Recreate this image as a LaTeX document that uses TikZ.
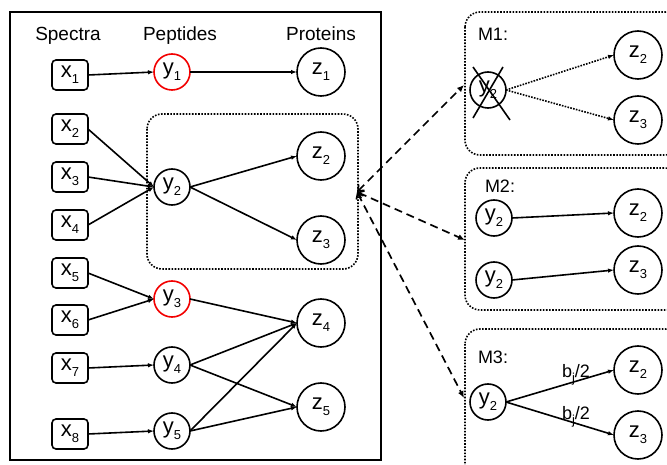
\documentclass[tikz,border=0pt]{standalone}
\usepackage{fontspec}
\setmainfont{Liberation Sans}
\usetikzlibrary{arrows.meta}
\newcommand\lowidx[1]{\raisebox{-0.28em}{\fontsize{13}{13}\selectfont #1}}
\newcommand\nd[2]{{\fontsize{22}{22}\selectfont #1\lowidx{#2}}}
\tikzset{
  every node/.style={inner sep=0pt, outer sep=0pt},
  xbox/.style={draw, line width=1.6pt, rounded corners=4pt, minimum width=36pt, minimum height=30pt},
  ycirc/.style={draw, circle, line width=1.6pt, minimum size=36pt},
  zcirc/.style={draw, circle, line width=1.6pt, minimum size=48pt},
  redcirc/.style={ycirc, draw=red!95!black},
  head/.style={font=\fontsize{19}{19}\selectfont, anchor=base},
  mlabel/.style={font=\fontsize{18}{18}\selectfont, anchor=base west},
  edge/.style={line width=1.6pt, -{Latex[length=6pt,width=4.5pt]}},
  dotedge/.style={edge, dash pattern=on 1.6pt off 1.3pt},
  dashedge/.style={line width=1.7pt, dash pattern=on 8pt off 5pt,
    {Straight Barb[length=5pt,width=8pt]}-{Latex[length=7pt,width=6pt]}},
  group/.style={line width=1.6pt, dash pattern=on 1.6pt off 1.5pt, rounded corners=15pt},
}
\begin{document}
\begin{tikzpicture}[x=1pt,y=-1pt]
\useasboundingbox (0,0) rectangle (667,465);
\clip (0,0) rectangle (667,465);

% outer frame of the graph
\draw[line width=1.8pt] (10,12) rectangle (381,460);

% column headers
\node[head] (hS) at (68,41) {Spectra};
\node[head] (hP) at (180,41) {Peptides};
\node[head] (hR) at (321,41) {Proteins};

% spectra
\node[xbox] (x1) at (70,75)  {\nd{x}{1}};
\node[xbox] (x2) at (70,129) {\nd{x}{2}};
\node[xbox] (x3) at (70,177) {\nd{x}{3}};
\node[xbox] (x4) at (70,225) {\nd{x}{4}};
\node[xbox] (x5) at (70,273) {\nd{x}{5}};
\node[xbox] (x6) at (70,320) {\nd{x}{6}};
\node[xbox] (x7) at (70,368) {\nd{x}{7}};
\node[xbox] (x8) at (70,434) {\nd{x}{8}};

% peptides
\node[redcirc] (y1) at (172,72)  {\nd{y}{1}};
\node[ycirc]   (y2) at (172,187) {\nd{y}{2}};
\node[redcirc] (y3) at (172,299) {\nd{y}{3}};
\node[ycirc]   (y4) at (172,365) {\nd{y}{4}};
\node[ycirc]   (y5) at (172,431) {\nd{y}{5}};

% proteins
\node[zcirc] (z1) at (321,72)  {\nd{z}{1}};
\node[zcirc] (z2) at (321,156) {\nd{z}{2}};
\node[zcirc] (z3) at (321,240) {\nd{z}{3}};
\node[zcirc] (z4) at (321,323) {\nd{z}{4}};
\node[zcirc] (z5) at (321,407) {\nd{z}{5}};

% spectrum -> peptide
\draw[edge] (x1.east) -- (y1.west);
\foreach \s in {x2,x3,x4} \draw[edge] (\s.east) -- (y2.west);
\foreach \s in {x5,x6} \draw[edge] (\s.east) -- (y3.west);
\draw[edge] (x7.east) -- (y4.west);
\draw[edge] (x8.east) -- (y5.west);

% peptide -> protein
\draw[edge] (y1.east) -- (z1.west);
\draw[edge] (y2.east) -- (z2.west);
\draw[edge] (y2.east) -- (z3.west);
\draw[edge] (y3.east) -- (z4.west);
\draw[edge] (y4.east) -- (z4.west);
\draw[edge] (y4.east) -- (z5.west);
\draw[edge] (y5.east) -- (z4.west);
\draw[edge] (y5.east) -- (z5.west);

% shared-peptide group
\draw[group] (147,114) rectangle (358,269);
\coordinate (hub) at (357,192);

% model M1: peptide removed
\draw[group] (465,12) rectangle (680,155);
\node[mlabel] (m1) at (478,41) {M1:};
\node[ycirc] (a2) at (488,90) {\nd{y}{2}};
\node[zcirc] (az2) at (638,55) {\nd{z}{2}};
\node[zcirc] (az3) at (638,120) {\nd{z}{3}};
\draw[dotedge] (a2.east) -- (az2.west);
\draw[dotedge] (a2.east) -- (az3.west);
\draw[line width=1.6pt] (473,67) -- (510,120);
\draw[line width=1.6pt] (503,67) -- (473,118);

% model M2: peptide duplicated
\draw[group] (465,168) rectangle (680,310);
\node[mlabel] (m2) at (485,193) {M2:};
\node[ycirc] (b2) at (494,218) {\nd{y}{2}};
\node[ycirc] (b3) at (494,280) {\nd{y}{2}};
\node[zcirc] (bz2) at (638,213) {\nd{z}{2}};
\node[zcirc] (bz3) at (638,270) {\nd{z}{3}};
\draw[edge] (b2.east) -- (bz2.west);
\draw[edge] (b3.east) -- (bz3.west);

% model M3: peptide split with weights
\draw[group] (465,329) rectangle (680,480);
\node[mlabel] (m3) at (478,363) {M3:};
\node[ycirc] (c2) at (488,402) {\nd{y}{2}};
\node[zcirc] (cz2) at (638,370) {\nd{z}{2}};
\node[zcirc] (cz3) at (638,435) {\nd{z}{3}};
\draw[edge] (c2.east) -- (cz2.west);
\draw[edge] (c2.east) -- (cz3.west);
\node[mlabel] (w1) at (562,377) {b\lowidx{j}/2};
\node[mlabel] (w2) at (562,419) {b\lowidx{j}/2};

% links from the group to the models
\coordinate (in1) at (464,85);
\coordinate (in2) at (465,240);
\coordinate (in3) at (464,398);
\draw[dashedge] (hub) -- (in1);
\draw[dashedge] (hub) -- (in2);
\draw[dashedge] (hub) -- (in3);
\end{tikzpicture}
\end{document}
